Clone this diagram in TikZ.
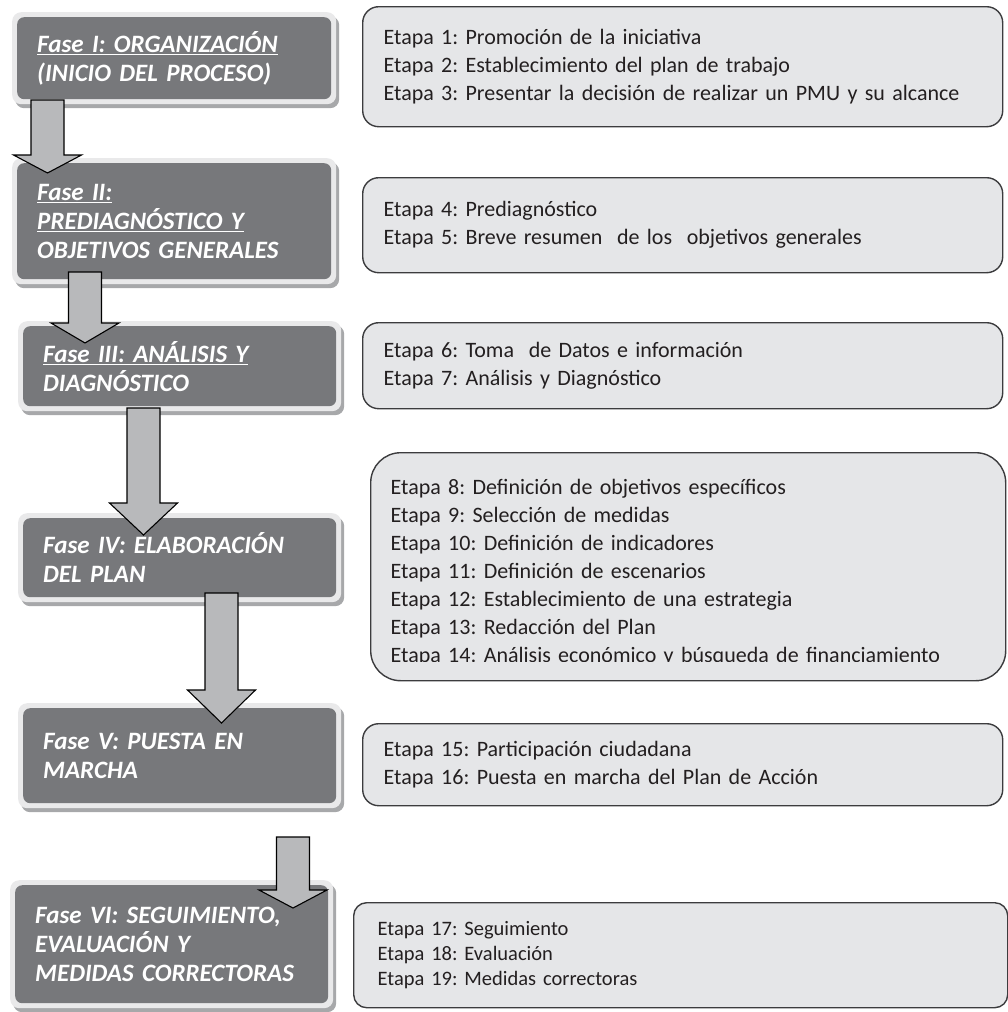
\documentclass[tikz,border=0pt]{standalone}
\usepackage{fontspec}
\setmainfont{Carlito}
\usepackage{tikz}
\usetikzlibrary{calc,shadows}
\definecolor{fasegris}{HTML}{77787B}
\definecolor{fasemarco}{HTML}{E9E9EA}
\definecolor{fasesombra}{HTML}{A7A8AA}
\definecolor{flechagris}{HTML}{B8B9BB}
\definecolor{etapafondo}{HTML}{E5E6E8}
\definecolor{etapalinea}{HTML}{3C3C3E}
\definecolor{textogris}{HTML}{231F20}
\frenchspacing
\tikzset{
fase box/.style={
  fill=fasemarco,
  rounded corners=9pt,
  anchor=north west,
  inner xsep=25pt,
  inner ysep=0pt,
  align=left,
  text=white,
  font=\fontsize{25}{29}\selectfont\bfseries\itshape,
  drop shadow={shadow xshift=3pt,shadow yshift=-4pt,fill=fasesombra,opacity=1},
  path picture={\fill[fasegris,rounded corners=7pt]
    ([shift={(5pt,5pt)}]path picture bounding box.south west) rectangle
    ([shift={(-5pt,-5pt)}]path picture bounding box.north east);}
},
etapa box/.style={
  fill=etapafondo,
  draw=etapalinea,
  line width=1.4pt,
  rounded corners=16pt,
  anchor=north west,
  inner ysep=0pt,
  align=left,
  text=textogris,
  font=\fontsize{22}{28}\selectfont
},
fase flecha/.style={fill=flechagris, draw=black, line width=1.1pt, line join=miter}
}
% block arrow: start, tip, head length
\newcommand{\flecha}[3]{%
  \draw[fase flecha] let \p1=(#1), \p2=(#2) in
    (\x1-16.5pt,\y1) -- (\x1-16.5pt,\y2+#3pt) -- (\x1-34pt,\y2+#3pt) -- (\x2,\y2)
    -- (\x1+34pt,\y2+#3pt) -- (\x1+16.5pt,\y2+#3pt) -- (\x1+16.5pt,\y1) -- cycle;}

\begin{document}
\begin{tikzpicture}[x=1pt,y=-1pt]
\useasboundingbox (0,0) rectangle (1008,1012);
% fases
\node[fase box,minimum width=324pt,minimum height=92pt,text width=274pt] (f1) at (12,12)
  {\underline{Fase I: ORGANIZACIÓN}\\(INICIO DEL PROCESO)};
\node[fase box,minimum width=324pt,minimum height=126pt,text width=274pt] (f2) at (12,158)
  {\underline{Fase II:}\\\underline{PREDIAGNÓSTICO Y}\\OBJETIVOS GENERALES};
\node[fase box,minimum width=323pt,minimum height=90pt,text width=273pt] (f3) at (18,321)
  {\underline{Fase III: ANÁLISIS Y}\\DIAGNÓSTICO};
\node[fase box,minimum width=323pt,minimum height=89pt,text width=273pt] (f4) at (18,513)
  {Fase IV: ELABORACIÓN\\DEL PLAN};
\node[fase box,minimum width=323pt,minimum height=105pt,text width=273pt] (f5) at (18,703)
  {Fase V: PUESTA EN\\MARCHA};
\node[fase box,minimum width=323pt,minimum height=128pt,text width=273pt] (f6) at (10,880)
  {Fase VI: SEGUIMIENTO,\\EVALUACIÓN Y\\MEDIDAS CORRECTORAS};
% flechas
\coordinate (a1) at (47.5,100);  \coordinate (b1) at (47.5,173);
\coordinate (a2) at (85,272);    \coordinate (b2) at (85,343);
\coordinate (a3) at (143.5,408); \coordinate (b3) at (143.5,535);
\coordinate (a4) at (221.5,593); \coordinate (b4) at (221.5,723);
\coordinate (a5) at (293,837);   \coordinate (b5) at (293,908);
\flecha{a1}{b1}{18}
\flecha{a2}{b2}{20}
\flecha{a3}{b3}{32}
\flecha{a4}{b4}{33}
\flecha{a5}{b5}{18}
% etapas
\node[etapa box,minimum width=640pt,minimum height=120pt,inner xsep=21pt,text width=598pt] (e1) at (362,6)
  {Etapa 1: Promoción de la iniciativa\\Etapa 2: Establecimiento del plan de trabajo\\Etapa 3: Presentar la decisión de realizar un PMU y su alcance};
\node[etapa box,minimum width=640pt,minimum height=95pt,inner xsep=21pt,text width=598pt] (e2) at (362,177)
  {Etapa 4: Prediagnóstico\\Etapa 5: Breve resumen\ \ de los\ \ objetivos generales};
\node[etapa box,minimum width=640pt,minimum height=86pt,inner xsep=21pt,text width=598pt] (e3) at (362,322)
  {Etapa 6: Toma\ \ de Datos e información\\Etapa 7: Análisis y Diagnóstico};
\node[etapa box,rounded corners=30pt,minimum width=635pt,minimum height=228pt] (e4) at (370,452) {};
\begin{scope}
\clip (370,452) rectangle (1005,661);
\node[etapa box,fill=none,draw=none,anchor=center,inner xsep=20pt,text width=595pt] (t4) at ([yshift=-6pt]e4.center)
  {Etapa 8: Definición de objetivos específicos\\Etapa 9: Selección de medidas\\Etapa 10: Definición de indicadores\\Etapa 11: Definición de escenarios\\Etapa 12: Establecimiento de una estrategia\\Etapa 13: Redacción del Plan\\Etapa 14: Análisis económico y búsqueda de financiamiento};
\end{scope}
\node[etapa box,minimum width=640pt,minimum height=82pt,inner xsep=21pt,text width=598pt] (e5) at (362,723)
  {Etapa 15: Participación ciudadana\\Etapa 16: Puesta en marcha del Plan de Acción};
\node[etapa box,rounded corners=13pt,minimum width=654pt,minimum height=105pt,inner xsep=24pt,text width=606pt,
  font=\fontsize{20.5}{25}\selectfont] (e6) at (353,902)
  {Etapa 17: Seguimiento\\Etapa 18: Evaluación\\Etapa 19: Medidas correctoras};
\end{tikzpicture}
\end{document}
